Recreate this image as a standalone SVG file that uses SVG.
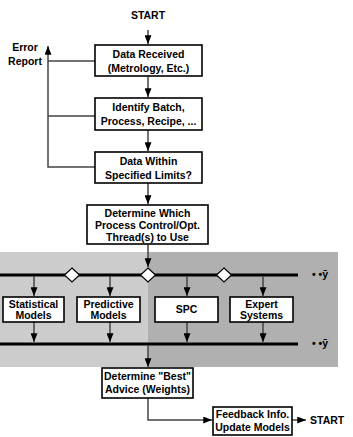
<svg xmlns="http://www.w3.org/2000/svg" width="353" height="437" viewBox="0 0 353 437">
<style>
text{font-family:"Liberation Sans",Arial,sans-serif;font-weight:bold;font-size:10.5px;fill:#000;text-anchor:middle}
.box{fill:#fff;stroke:#000;stroke-width:1.6}
.ln{fill:none;stroke:#444;stroke-width:1.5}
.bus{fill:none;stroke:#000;stroke-width:3}
.dia{fill:#fff;stroke:#000;stroke-width:1.2}
</style>
<defs>
<marker id="ah" viewBox="0 0 10 8" refX="10" refY="4" markerWidth="9" markerHeight="7" markerUnits="userSpaceOnUse" orient="auto"><path d="M0,0L10,4L0,8z" fill="#000"/></marker>
</defs>
<rect x="0" y="252" width="148" height="115" fill="#cccccc"/>
<rect x="148" y="252" width="190" height="115" fill="#b0b0b0"/>
<g id="connectors">
<path class="ln" d="M148,30V44" marker-end="url(#ah)"/>
<path class="ln" d="M148,76V97" marker-end="url(#ah)"/>
<path class="ln" d="M148,130V151" marker-end="url(#ah)"/>
<path class="ln" d="M148,183V204" marker-end="url(#ah)"/>
<path class="ln" d="M95,61H48M95,116H48M95,167H48V46" marker-end="url(#ah)"/>
<path class="ln" d="M148,244V267" marker-end="url(#ah)"/>
<path class="bus" d="M0,275H298"/>
<path class="bus" d="M0,344H298"/>
<path class="ln" d="M34,276V296" marker-end="url(#ah)"/>
<path class="ln" d="M110,276V296" marker-end="url(#ah)"/>
<path class="ln" d="M187,276V296" marker-end="url(#ah)"/>
<path class="ln" d="M263,276V296" marker-end="url(#ah)"/>
<path class="ln" d="M34,322V342" marker-end="url(#ah)"/>
<path class="ln" d="M110,322V342" marker-end="url(#ah)"/>
<path class="ln" d="M187,322V342" marker-end="url(#ah)"/>
<path class="ln" d="M263,322V342" marker-end="url(#ah)"/>
<path class="ln" d="M148,345V367" marker-end="url(#ah)"/>
<path class="ln" d="M148,398V420H212" marker-end="url(#ah)"/>
<path class="ln" d="M292,420H306" marker-end="url(#ah)"/>
<path class="dia" d="M72,268L79.5,275L72,282L64.5,275z"/>
<path class="dia" d="M148,268L155.5,275L148,282L140.5,275z"/>
<path class="dia" d="M224,268L231.5,275L224,282L216.5,275z"/>
</g>
<g id="start"><text x="148" y="19">START</text></g>
<g id="error"><text x="25" y="51">Error</text><text x="25" y="65">Report</text></g>
<g id="n1"><rect class="box" x="95" y="45" width="107" height="31"/><text x="148.5" y="58">Data Received</text><text x="148.5" y="72">(Metrology, Etc.)</text></g>
<g id="n2"><rect class="box" x="95" y="98" width="107" height="32"/><text x="148.5" y="111">Identify Batch,</text><text x="148.5" y="125">Process, Recipe, ...</text></g>
<g id="n3"><rect class="box" x="95" y="152" width="107" height="31"/><text x="148.5" y="165">Data Within</text><text x="148.5" y="179">Specified Limits?</text></g>
<g id="n4"><rect class="box" x="87" y="205" width="121" height="39"/><text x="147.5" y="217">Determine Which</text><text x="147.5" y="229">Process Control/Opt.</text><text x="147.5" y="241">Thread(s) to Use</text></g>
<g id="n5"><rect class="box" x="3" y="297" width="61" height="25"/><text x="33.5" y="307.5">Statistical</text><text x="33.5" y="318.5">Models</text></g>
<g id="n6"><rect class="box" x="77" y="297" width="63" height="25"/><text x="108.5" y="307.5">Predictive</text><text x="108.5" y="318.5">Models</text></g>
<g id="n7"><rect class="box" x="155" y="297" width="63" height="25"/><text x="186.5" y="313">SPC</text></g>
<g id="n8"><rect class="box" x="230" y="297" width="63" height="25"/><text x="261.5" y="307.5">Expert</text><text x="261.5" y="318.5">Systems</text></g>
<g id="y1"><text x="320" y="278">• •ȳ</text></g>
<g id="y2"><text x="320" y="347">• •ȳ</text></g>
<g id="n9"><rect class="box" x="102" y="368" width="91" height="30"/><text x="147.5" y="380">Determine "Best"</text><text x="147.5" y="393">Advice (Weights)</text></g>
<g id="n10"><rect class="box" x="213" y="407" width="79" height="28"/><text x="252.5" y="418">Feedback Info.</text><text x="252.5" y="431">Update Models</text></g>
<g id="start2"><text x="310" y="424" style="text-anchor:start">START</text></g>
</svg>
